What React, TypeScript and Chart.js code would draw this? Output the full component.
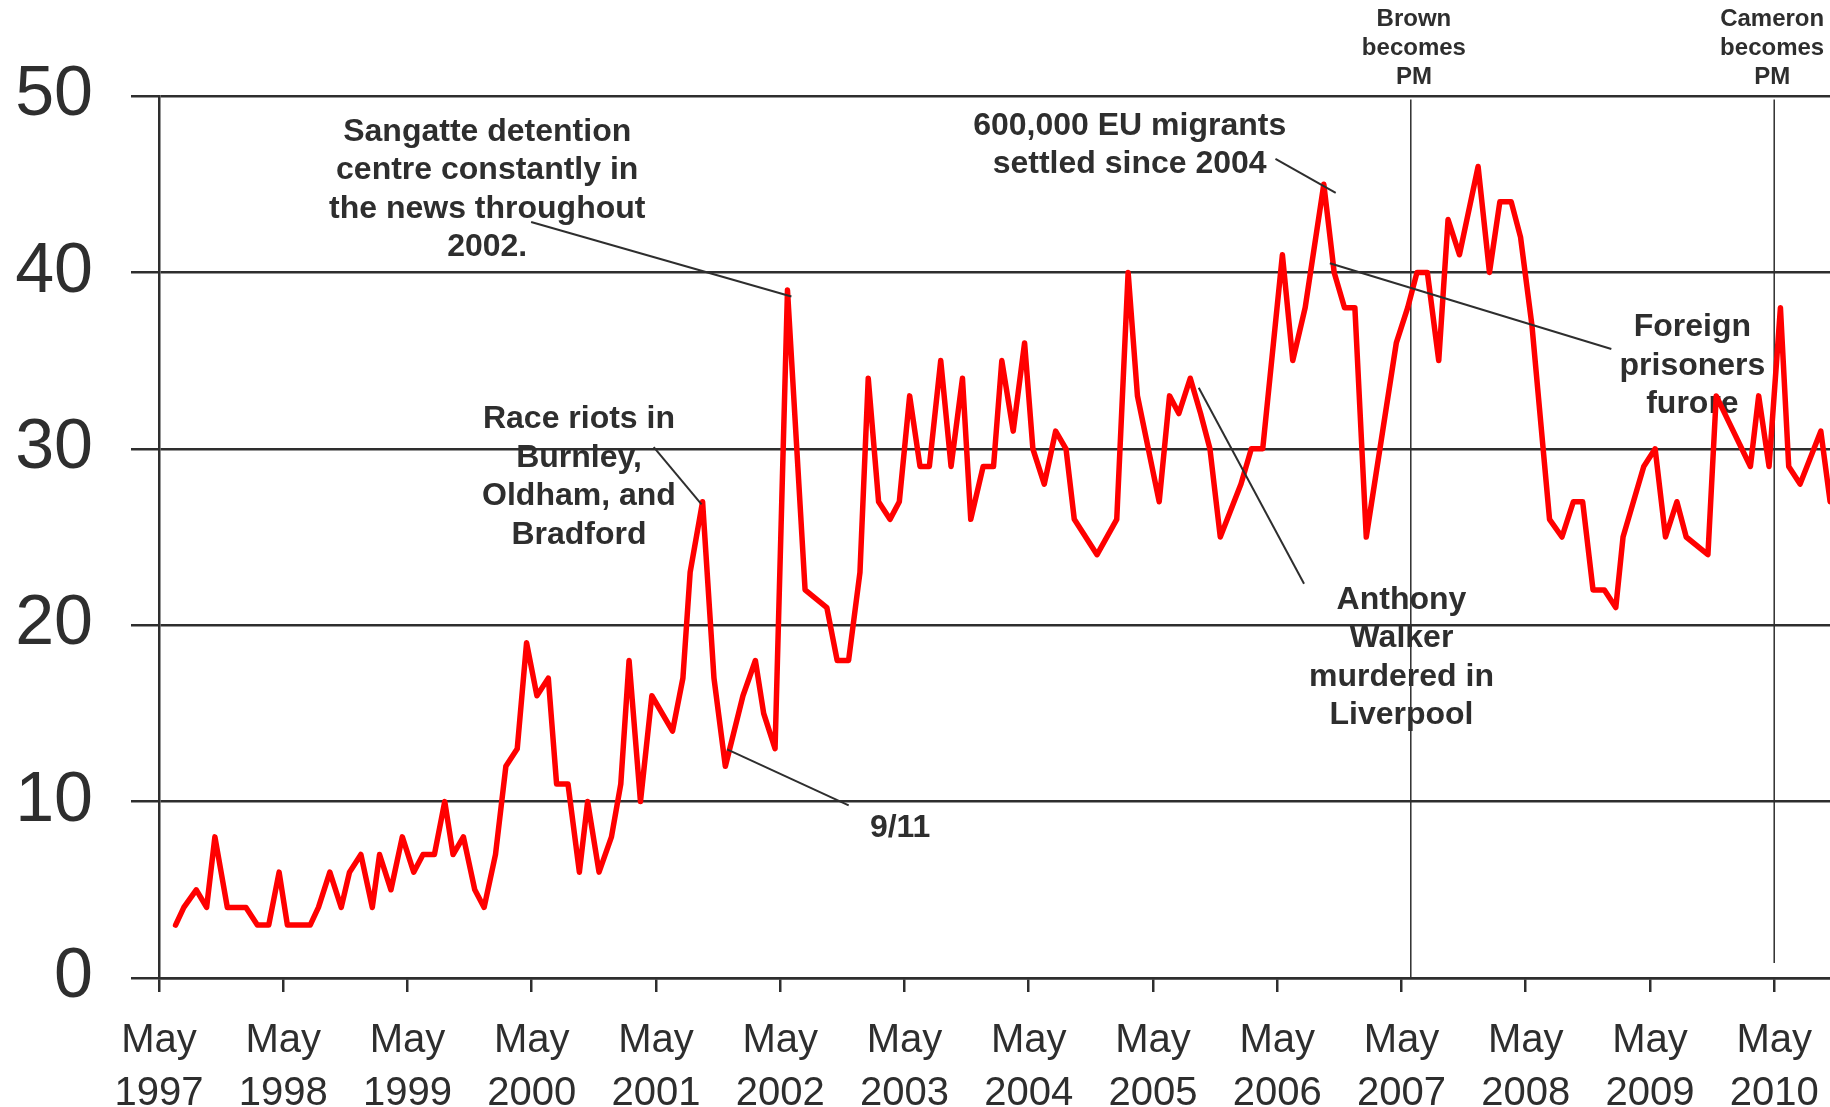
import React, { useEffect, useRef } from "react";
import { Chart, registerables } from "chart.js";

Chart.register(...registerables);

// Survey points: months elapsed since 1 May 1997, and % of respondents
const surveyMonths = [
  1.6, 2.4, 3.6, 4.6, 5.4, 6.6, 8.4, 9.5, 10.6, 11.6,
  12.4, 14.6, 15.4, 16.5, 17.6, 18.4, 19.5, 20.6, 21.3, 22.4,
  23.5, 24.6, 25.5, 26.6, 27.6, 28.4, 29.4, 30.5, 31.4, 32.5,
  33.5, 34.6, 35.5, 36.5, 37.6, 38.4, 39.5, 40.6, 41.4, 42.5,
  43.7, 44.6, 45.4, 46.5, 47.6, 49.6, 50.6, 51.3, 52.5, 53.6,
  54.7, 56.4, 57.6, 58.4, 59.5, 60.7, 62.4, 64.5, 65.5, 66.6,
  67.7, 68.5, 69.5, 70.6, 71.5, 72.5, 73.5, 74.4, 75.5, 76.5,
  77.6, 78.4, 79.6, 80.6, 81.4, 82.5, 83.6, 84.4, 85.5, 86.6,
  87.6, 88.4, 90.6, 92.5, 93.6, 94.5, 96.6, 97.6, 98.5, 99.6,
  100.6, 101.5, 102.5, 104.5, 105.5, 106.6, 108.5, 109.5, 110.7, 112.5,
  113.5, 114.5, 115.5, 116.6, 119.5, 120.6, 121.5, 122.5, 123.6, 124.5,
  125.6, 127.4, 128.5, 129.5, 130.6, 131.5, 132.6, 134.3, 135.5, 136.6,
  137.5, 138.5, 139.6, 140.7, 141.4, 143.4, 144.5, 145.5, 146.6, 147.5,
  149.6, 150.4, 153.7, 154.5, 155.5, 156.6, 157.4, 158.5, 160.5, 161.4,
];

const issueShare = [
  3, 4, 5, 4, 8, 4, 4, 3, 3, 6,
  3, 3, 4, 6, 4, 6, 7, 4, 7, 5,
  8, 6, 7, 7, 10, 7, 8, 5, 4, 7,
  12, 13, 19, 16, 17, 11, 11, 6, 10, 6,
  8, 11, 18, 10, 16, 14, 17, 23, 27, 17,
  12, 16, 18, 15, 13, 39, 22, 21, 18, 18,
  23, 34, 27, 26, 27, 33, 29, 29, 35, 29,
  34, 26, 29, 29, 35, 31, 36, 30, 28, 31,
  30, 26, 24, 26, 40, 33, 27, 33, 32, 34,
  32, 30, 25, 28, 30, 30, 41, 35, 38, 45,
  40, 38, 38, 25, 36, 38, 40, 40, 35, 43,
  41, 46, 40, 44, 44, 42, 37, 26, 25, 27,
  27, 22, 22, 21, 25, 29, 30, 25, 27, 25,
  24, 33, 29, 33, 29, 38, 29, 28, 31, 27,
];

// X axis: one tick each May
const tickYears = [1997, 1998, 1999, 2000, 2001, 2002, 2003, 2004, 2005, 2006, 2007, 2008, 2009, 2010, 2011];
const tickMonthName = "May";

// Y axis
const yMin = 0;
const yMax = 50;
const yStep = 10;

// Changes of Prime Minister (months since May 1997)
const pmMonths = [120.9, 156.0];
const pmLabelMonths = [121.2, 155.8];
const pmLabels = [
  ["Brown", "becomes", "PM"],
  ["Cameron", "becomes", "PM"],
];

// Event annotations: text lines, text centre (month, value), leader line (month, value) pairs
const eventTexts = [
  ["Sangatte detention", "centre constantly in", "the news throughout", "2002."],
  ["Race riots in", "Burnley,", "Oldham, and", "Bradford"],
  ["9/11"],
  ["600,000 EU migrants", "settled since 2004"],
  ["Foreign", "prisoners", "furore"],
  ["Anthony", "Walker", "murdered in", "Liverpool"],
];
const eventTextAt = [
  [31.7, 44.7],
  [40.56, 28.4],
  [71.58, 8.5],
  [93.75, 47.22],
  [148.1, 34.7],
  [120.0, 18.15],
];
const eventLeaders = [
  [35.94, 42.86, 61.08, 38.63],
  [47.78, 30.09, 52.4, 26.85],
  [54.87, 12.96, 66.61, 9.79],
  [107.83, 46.44, 113.65, 44.51],
  [113.08, 40.52, 140.27, 35.66],
  [100.42, 33.46, 110.59, 22.35],
];

const FONT = '"Liberation Sans", Arial, Helvetica, sans-serif';
const INK = "#2e2e2e";

const annotationPlugin = {
  id: "annotations",
  beforeDatasetsDraw(chart: any) {
    const { ctx } = chart;
    const x = chart.scales.x;
    const y = chart.scales.y;
    ctx.save();
    // PM vertical lines
    ctx.strokeStyle = INK;
    ctx.lineWidth = 1.5;
    pmMonths.forEach((m, i) => {
      const px = x.getPixelForValue(m);
      const top = y.getPixelForValue(49.8);
      const bottom = y.getPixelForValue(i === 0 ? 0 : 0.85);
      ctx.beginPath();
      ctx.moveTo(px, top);
      ctx.lineTo(px, bottom);
      ctx.stroke();
    });
    // PM labels
    ctx.fillStyle = INK;
    ctx.textAlign = "center";
    ctx.textBaseline = "middle";
    ctx.font = `bold 24px ${FONT}`;
    pmLabels.forEach((lines, i) => {
      const px = x.getPixelForValue(pmLabelMonths[i]);
      const cy = y.getPixelForValue(52.71);
      lines.forEach((t, j) => ctx.fillText(t, px, cy + (j - (lines.length - 1) / 2) * 29));
    });
    // Event labels
    ctx.font = `bold 32px ${FONT}`;
    eventTexts.forEach((lines, i) => {
      const cx = x.getPixelForValue(eventTextAt[i][0]);
      const cy = y.getPixelForValue(eventTextAt[i][1]);
      lines.forEach((t, j) => ctx.fillText(t, cx, cy + (j - (lines.length - 1) / 2) * 38.5));
    });
    ctx.restore();
  },
  afterDatasetsDraw(chart: any) {
    const { ctx } = chart;
    const x = chart.scales.x;
    const y = chart.scales.y;
    ctx.save();
    ctx.strokeStyle = INK;
    ctx.lineWidth = 2;
    eventLeaders.forEach((l) => {
      ctx.beginPath();
      ctx.moveTo(x.getPixelForValue(l[0]), y.getPixelForValue(l[1]));
      ctx.lineTo(x.getPixelForValue(l[2]), y.getPixelForValue(l[3]));
      ctx.stroke();
    });
    ctx.restore();
  },
};

export default function App() {
  const ref = useRef<HTMLCanvasElement>(null);

  useEffect(() => {
    if (!ref.current) return;
    const points = surveyMonths.map((m, i) => ({ x: m, y: issueShare[i] }));
    const chart = new Chart(ref.current, {
      type: "line",
      data: {
        datasets: [
          {
            data: points,
            borderColor: "#ff0000",
            backgroundColor: "#ff0000",
            borderWidth: 5.5,
            pointRadius: 0,
            tension: 0,
            borderJoinStyle: "round",
            borderCapStyle: "round",
            fill: false,
          },
        ],
      },
      options: {
        responsive: false,
        animation: false,
        events: [],
        layout: { padding: { top: 96, left: 0, right: 0, bottom: 0 } },
        plugins: { legend: { display: false }, tooltip: { enabled: false }, title: { display: false } },
        scales: {
          x: {
            type: "linear",
            min: 0,
            max: 178,
            afterBuildTicks: (s: any) => {
              s.ticks = tickYears.map((yr) => ({ value: (yr - 1997) * 12 }));
            },
            afterFit: (s: any) => {
              s.height = 129;
              s.paddingLeft = 0;
              s.paddingRight = 0;
            },
            ticks: {
              autoSkip: false,
              maxRotation: 0,
              minRotation: 0,
              includeBounds: false,
              padding: 22,
              color: INK,
              font: { family: FONT, size: 40, lineHeight: 1.33 },
              callback: (_v: any, i: number) => [tickMonthName, String(tickYears[i])],
            },
            grid: { drawOnChartArea: false, drawTicks: true, tickLength: 14, color: INK, lineWidth: 2.5 },
            border: { display: true, color: INK, width: 2.5 },
          },
          y: {
            min: yMin,
            max: yMax,
            afterFit: (s: any) => {
              s.width = 159;
            },
            ticks: {
              stepSize: yStep,
              padding: 38,
              color: INK,
              font: { family: FONT, size: 70 },
            },
            grid: { color: INK, lineWidth: 2.5, tickLength: 28, drawTicks: true },
            border: { display: true, color: INK, width: 2.5 },
          },
        },
      },
      plugins: [annotationPlugin],
    } as any);
    return () => chart.destroy();
  }, []);

  return (
    <div
      style={{
        position: "fixed",
        left: 0,
        top: 0,
        width: 1830,
        height: 1107,
        overflow: "hidden",
        background: "#ffffff",
      }}
    >
      <canvas ref={ref} width={2002} height={1107} style={{ display: "block" }} />
    </div>
  );
}
